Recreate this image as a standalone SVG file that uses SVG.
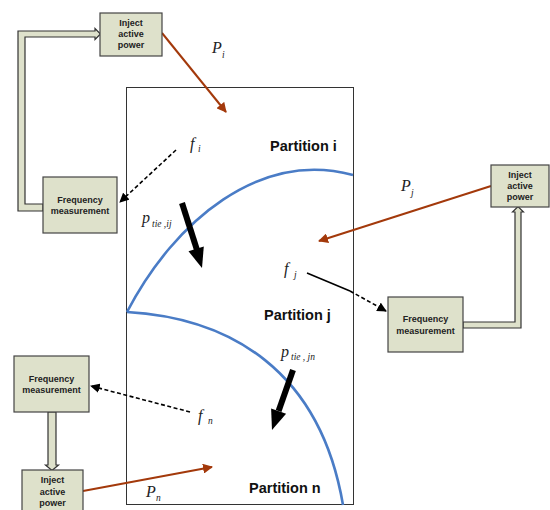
<svg xmlns="http://www.w3.org/2000/svg" width="550" height="510" viewBox="0 0 550 510">
<defs>
<marker id="brownHead" viewBox="0 0 10 10" refX="9" refY="5" markerWidth="5" markerHeight="5" orient="auto" markerUnits="strokeWidth"><path d="M0,0 L10,5 L0,10 Z" fill="#a3390b"/></marker>
<marker id="blackHead" viewBox="0 0 10 10" refX="9" refY="5" markerWidth="6" markerHeight="6" orient="auto" markerUnits="strokeWidth"><path d="M0,0 L10,5 L0,10 Z" fill="#000"/></marker>
</defs>
<style>
.box{fill:#dee1cb;stroke:#444;stroke-width:1.2}
.blk{fill:#dee1cb;stroke:#333;stroke-width:1.2}
.bt{font-family:"Liberation Sans",Arial,sans-serif;font-weight:bold;font-size:9px;fill:#222;text-anchor:middle}
.part{font-family:"Liberation Sans",Arial,sans-serif;font-weight:bold;font-size:14.5px;fill:#111}
.m{font-family:"Liberation Serif","Times New Roman",serif;font-style:italic;font-size:16px;fill:#222}
.s{font-family:"Liberation Serif","Times New Roman",serif;font-style:italic;font-size:9.5px;fill:#222}
.brown{stroke:#a3390b;stroke-width:2;fill:none;marker-end:url(#brownHead)}
.dash{stroke:#000;stroke-width:1.6;fill:none;stroke-dasharray:4 2.5;marker-end:url(#blackHead)}
.curve{stroke:#4a7cc6;stroke-width:2.6;fill:none}
</style>
<rect x="126.5" y="87.5" width="227" height="417" fill="#fff" stroke="#333" stroke-width="1"/>
<g id="curves">
<path class="curve" d="M127,312 C175,220 260,150 353,175"/>
<path class="curve" d="M127,312 C230,318 320,370 343,505"/>
</g>
<g id="connectors">
<path class="blk" d="M18,31 L95,31 L95,28.5 L100.5,34 L95,39.5 L95,37 L25,37 L25,204 L43,204 L43,211 L18,211 Z"/>
<path class="blk" d="M463,322 L515,322 L515,212 L512.5,212 L518,206.5 L523.5,212 L521,212 L521,328 L463,328 Z"/>
<path class="blk" d="M48,412 L56,412 L56,465 L58.5,465 L52,470.5 L45.5,465 L48,465 Z"/>
<line class="brown" x1="162" y1="33" x2="226" y2="112"/>
<line class="brown" x1="491" y1="186" x2="319" y2="241"/>
<line class="brown" x1="83" y1="491" x2="212" y2="467"/>
<line class="dash" x1="176" y1="150" x2="120" y2="202"/>
<line x1="307" y1="273" x2="350" y2="291" stroke="#000" stroke-width="1.6"/>
<line class="dash" x1="350" y1="291" x2="386" y2="311"/>
<line class="dash" x1="190" y1="412" x2="91" y2="386"/>
<line x1="182" y1="203" x2="197" y2="250" stroke="#000" stroke-width="6"/>
<polygon points="202,268 203.8,246.5 188.5,251.3" fill="#000"/>
<line x1="293" y1="370" x2="278.6" y2="411.1" stroke="#000" stroke-width="6"/>
<polygon points="272,430 286.1,413.7 271.1,408.5" fill="#000"/>
</g>
<g id="inject-i"><rect class="box" x="100" y="13" width="62" height="43"/><text class="bt" x="131" y="26">Inject</text><text class="bt" x="131" y="37">active</text><text class="bt" x="131" y="48">power</text></g>
<g id="freq-i"><rect class="box" x="43" y="177" width="74" height="56"/><text class="bt" x="80" y="203">Frequency</text><text class="bt" x="80" y="214">measurement</text></g>
<g id="inject-j"><rect class="box" x="491" y="165" width="58" height="42"/><text class="bt" x="520" y="178">Inject</text><text class="bt" x="520" y="189">active</text><text class="bt" x="520" y="200">power</text></g>
<g id="freq-j"><rect class="box" x="388" y="297" width="75" height="55"/><text class="bt" x="425.5" y="322">Frequency</text><text class="bt" x="425.5" y="334">measurement</text></g>
<g id="freq-n"><rect class="box" x="14" y="356" width="75" height="56"/><text class="bt" x="51.5" y="382">Frequency</text><text class="bt" x="51.5" y="393">measurement</text></g>
<g id="inject-n"><rect class="box" x="22" y="470" width="61" height="45"/><text class="bt" x="52.5" y="483">Inject</text><text class="bt" x="52.5" y="495">active</text><text class="bt" x="52.5" y="506">power</text></g>
<g id="partitions">
<text class="part" x="270" y="151">Partition i</text>
<text class="part" x="264" y="320">Partition j</text>
<text class="part" x="249" y="493">Partition n</text>
</g>
<g id="labels">
<text class="m" x="212" y="53">P</text><text class="s" x="222" y="58">i</text>
<text class="m" x="190" y="149">f</text><text class="s" x="198" y="152">i</text>
<text class="m" x="142" y="223">p</text><text class="s" x="152" y="227">tie ,ij</text>
<text class="m" x="401" y="191">P</text><text class="s" x="411" y="196">j</text>
<text class="m" x="284" y="274">f</text><text class="s" x="294" y="278">j</text>
<text class="m" x="281" y="357">p</text><text class="s" x="291" y="360">tie , jn</text>
<text class="m" x="198" y="421">f</text><text class="s" x="208" y="424">n</text>
<text class="m" x="146" y="497">P</text><text class="s" x="156" y="501">n</text>
</g>
</svg>
